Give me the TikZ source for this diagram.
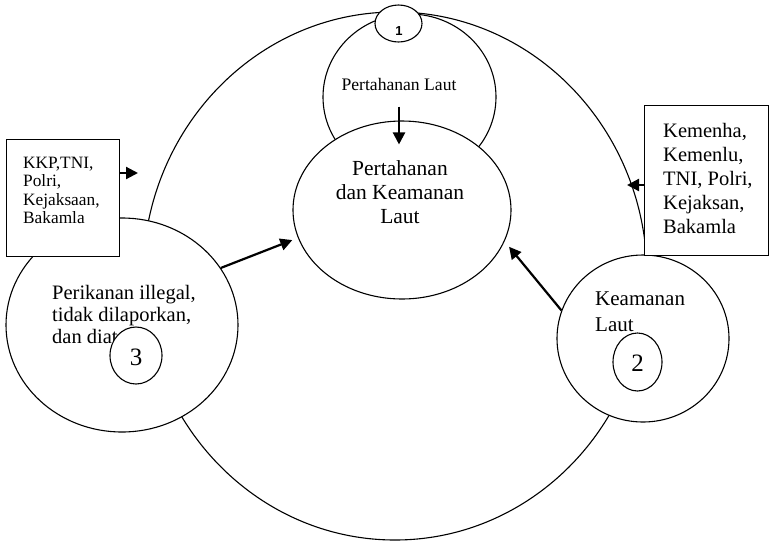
\documentclass[tikz,border=0pt]{standalone}
\usepackage{fontspec}
\setmainfont{Liberation Serif}
\newfontfamily\arialfont{Liberation Sans}
\usetikzlibrary{shapes.geometric,arrows.meta,calc}
\begin{document}
\begin{tikzpicture}[x=1pt,y=-1pt,
  shapeline/.style={draw=black, line width=1.1pt, fill=white},
  oval/.style={shapeline, ellipse, inner sep=0pt},
  box/.style={shapeline, rectangle, inner sep=0pt, anchor=north west},
  arr/.style={line width=2.2pt, -{Triangle[length=12pt,width=12pt]}},
  lbl/.style={inner sep=0pt, align=left, anchor=north west},
  num/.style={inner sep=0pt, anchor=base},
]
\useasboundingbox (0,0) rectangle (771,547);
% big circle and ellipses
\node[oval, minimum width=504pt, minimum height=528pt] (big) at (395,276) {};
\node[oval, minimum width=173pt, minimum height=166pt] (tope) at (409.5,97) {};
\node[oval, minimum width=47pt, minimum height=37pt] (c1) at (398.5,23.5) {};
\node[oval, minimum width=218pt, minimum height=178pt] (main) at (402,210) {};
\node[oval, minimum width=232pt, minimum height=214pt] (c3) at (122,325) {};
\node[oval, minimum width=172pt, minimum height=167pt] (c2) at (643,338.5) {};
% boxes
\node[box, minimum width=113pt, minimum height=117pt] (kkp) at (6,139) {};
\node[box, minimum width=124pt, minimum height=150pt] (kem) at (644,105) {};
% texts
\node[num, font=\arialfont\bfseries\fontsize{13}{13}\selectfont] (t1) at (399,35) {1};
\node[num, font=\fontsize{17.6}{20}\selectfont] (tt) at (399,90.7) {Pertahanan Laut};
\node[inner sep=0pt, align=center, anchor=north, font=\fontsize{21.5}{24.2}\selectfont] (tmain) at (400,160.3) {Pertahanan\\dan Keamanan\\Laut};
\node[lbl, font=\fontsize{17.3}{18.5}\selectfont] (tkkp) at (23,156.5) {KKP,TNI,\\Polri,\\Kejaksaan,\\Bakamla};
\node[lbl, font=\fontsize{20.5}{24}\selectfont] (tkem) at (663,123) {Kemenha,\\Kemenlu,\\TNI, Polri,\\Kejaksan,\\Bakamla};
\node[lbl, font=\fontsize{20.5}{22}\selectfont] (tc3) at (52,285) {Perikanan illegal,\\tidak dilaporkan,\\dan diat};
\node[lbl, font=\fontsize{21}{25.5}\selectfont] (tc2) at (595,292) {Keamanan\\Laut};
% numbered circles
\node[oval, minimum width=52pt, minimum height=57pt] (n3) at (136,355.5) {};
\node[oval, minimum width=49pt, minimum height=58pt] (n2) at (637.5,362) {};
\node[num, font=\fontsize{25}{25}\selectfont] (t3) at (136,365) {3};
\node[num, font=\fontsize{25}{25}\selectfont] (t2) at (637.5,371.7) {2};
% arrows
\coordinate (tipL) at (138,173);
\coordinate (tipR) at (627,185);
\draw[arr] (kkp.east |- tipL) -- (tipL);
\draw[arr] (kem.west |- tipR) -- (tipR);
\draw[arr, shorten >=6pt] (c3.30) -- (main.195);
\draw[arr, shorten >=7pt] (c2.161.5) -- (main.343.8);
\draw[arr] ($(tt.south)+(0,15.5)$) -- ($(main.north -| tt.south)+(0,24)$);
\end{tikzpicture}
\end{document}
